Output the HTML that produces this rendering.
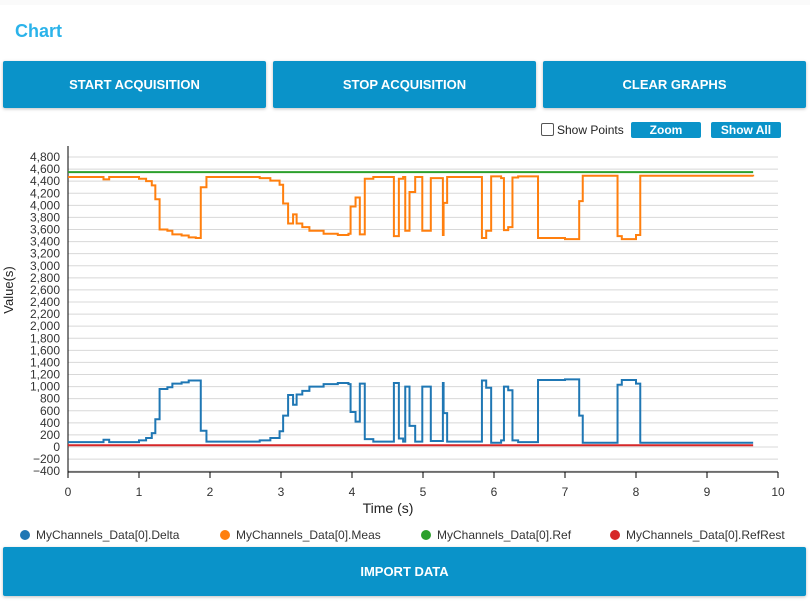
<!DOCTYPE html>
<html><head><meta charset="utf-8"><style>
body{margin:0;width:810px;height:603px;background:#fafafa;font-family:"Liberation Sans",sans-serif;overflow:hidden;position:relative}
.card{position:absolute;left:0;top:5px;width:810px;height:598px;background:#fff}
.btn{position:absolute;background:#0a93c9;color:#fff;font-weight:bold;font-size:13px;display:flex;align-items:center;justify-content:center;border-radius:2px;box-shadow:0 1px 3px rgba(0,0,0,.25)}
.sbtn{position:absolute;top:122px;height:16px;background:#0a93c9;color:#fff;font-weight:bold;font-size:12px;display:flex;align-items:center;justify-content:center;border-radius:2px}
.leg{position:absolute;top:528px;font-size:12px;color:#333;display:flex;align-items:center}
.dot{width:10px;height:10px;border-radius:50%;margin-right:6px}
</style></head><body>
<div class="card"></div>
<div style="position:absolute;left:15px;top:21px;font-size:18px;font-weight:bold;color:#2bb3ea">Chart</div>
<div class="btn" style="left:3px;top:61px;width:263px;height:47px">START ACQUISITION</div>
<div class="btn" style="left:273px;top:61px;width:263px;height:47px">STOP ACQUISITION</div>
<div class="btn" style="left:543px;top:61px;width:263px;height:47px">CLEAR GRAPHS</div>
<div style="position:absolute;left:541px;top:123px;width:11px;height:11px;border:1px solid #555;border-radius:2px"></div>
<div style="position:absolute;left:557px;top:123px;font-size:12px;color:#222">Show Points</div>
<div class="sbtn" style="left:631px;width:70px">Zoom</div>
<div class="sbtn" style="left:711px;width:70px">Show All</div>
<svg id="chart" width="810" height="603" style="position:absolute;left:0;top:0"></svg>
<div class="leg" style="left:20px"><span class="dot" style="background:#1f77b4"></span>MyChannels_Data[0].Delta</div>
<div class="leg" style="left:220px"><span class="dot" style="background:#ff7f0e"></span>MyChannels_Data[0].Meas</div>
<div class="leg" style="left:421px"><span class="dot" style="background:#2ca02c"></span>MyChannels_Data[0].Ref</div>
<div class="leg" style="left:610px"><span class="dot" style="background:#d62728"></span>MyChannels_Data[0].RefRest</div>
<div class="btn" style="left:3px;top:547px;width:803px;height:49px">IMPORT DATA</div>
<script>
const times=[0,0.5,0.58,1.0,1.1,1.18,1.23,1.29,1.4,1.47,1.6,1.7,1.8,1.87,1.95,2.7,2.85,2.98,3.03,3.1,3.17,3.22,3.3,3.4,3.6,3.8,3.95,3.98,4.05,4.11,4.18,4.3,4.59,4.66,4.72,4.75,4.81,4.89,4.99,5.11,5.28,5.29,5.34,5.83,5.89,5.96,6.1,6.14,6.2,6.26,6.34,6.62,7.0,7.2,7.25,7.74,7.8,8.0,8.06,9.65];
const meas=[4470,4430,4470,4440,4400,4330,4100,3600,3580,3520,3500,3470,3460,4300,4470,4450,4410,4340,4030,3700,3850,3700,3640,3580,3530,3510,3530,3980,4130,3520,4440,4470,3490,4440,4470,3580,4220,4470,3580,4450,3510,4040,4470,3460,3580,4480,4450,3590,3640,4460,4480,3460,3440,4070,4490,3490,3440,3510,4490,4480];
const delta=[80,120,80,110,150,230,460,960,990,1050,1070,1100,1100,270,90,110,150,260,520,860,700,870,930,1000,1040,1060,1040,580,420,1050,130,90,1060,140,90,1000,350,90,1000,100,1060,560,90,1100,980,70,110,1000,940,110,80,1110,1120,520,70,1030,1110,1050,70,70];
const refVal=[4550,4550];
const refRestVal=[30,30];
const refTimes=[0,9.65];
const yTicks=[-400,-200,0,200,400,600,800,1000,1200,1400,1600,1800,2000,2200,2400,2600,2800,3000,3200,3400,3600,3800,4000,4200,4400,4600,4800];
const xTicks=[0,1,2,3,4,5,6,7,8,9,10];
const X0=68,X1=778,Y0=447,SC=290/4800;
const sx=t=>X0+(X1-X0)*t/10, sy=v=>Y0-v*SC;
const svg=document.getElementById('chart'),NS='http://www.w3.org/2000/svg';
function mk(tag,a,p){const e=document.createElementNS(NS,tag);for(const k in a)e.setAttribute(k,a[k]);(p||svg).appendChild(e);return e;}
yTicks.forEach(v=>{
 const g=mk('line',{x1:X0,x2:X1,y1:sy(v),y2:sy(v),stroke:'#d8d8d8','stroke-width':1});
 
 
 const t=mk('text',{x:X0-8,y:sy(v)+4,'text-anchor':'end','font-size':12,fill:'#333','font-family':'Liberation Sans,sans-serif'});
 t.textContent=v<0?'\u2212'+Math.abs(v).toLocaleString('en-US'):v.toLocaleString('en-US');
 
 
});
xTicks.forEach(v=>{
 const l=mk('line',{x1:sx(v),x2:sx(v),y1:472,y2:478,stroke:'#000'});
 
 
 const t=mk('text',{x:sx(v),y:496,'text-anchor':'middle','font-size':12,fill:'#333','font-family':'Liberation Sans,sans-serif'});
 t.textContent=v;
 
 
});
const ax=mk('path',{d:`M${X0},146V472H${X1}`,fill:'none',stroke:'#000','stroke-width':1});


function step(ts,vs,color,name){
 let d='M'+sx(ts[0])+','+sy(vs[0]);
 for(let i=1;i<ts.length;i++){d+='H'+sx(ts[i])+'V'+sy(vs[i]);}
 const p=mk('path',{d:d,fill:'none',stroke:color,'stroke-width':2});
 
 
}
step(refTimes,refVal,'#2ca02c','series-ref');
step(refTimes,refRestVal,'#d62728','series-refrest');
step(times,meas,'#ff7f0e','series-meas');
step(times,delta,'#1f77b4','series-delta');
const xt=mk('text',{x:388,y:513,'text-anchor':'middle','font-size':14,fill:'#222','font-family':'Liberation Sans,sans-serif'});
xt.textContent='Time (s)';


const yt=mk('text',{x:0,y:0,transform:'translate(13,290) rotate(-90)','text-anchor':'middle','font-size':13,fill:'#222','font-family':'Liberation Sans,sans-serif'});
yt.textContent='Value(s)';


</script>
</body></html>
